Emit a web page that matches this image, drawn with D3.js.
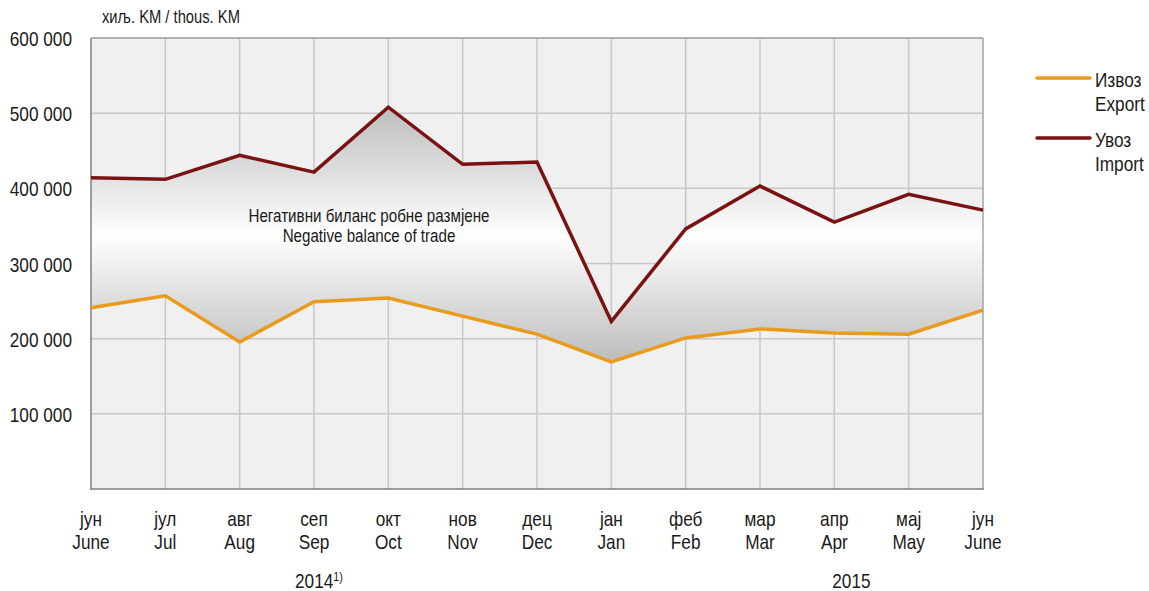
<!DOCTYPE html>
<html><head><meta charset="utf-8">
<script src="https://cdn.jsdelivr.net/npm/d3@7"></script>
<style>
html,body{margin:0;padding:0;background:#fff;}
svg text{font-family:"Liberation Sans",Arial,sans-serif;fill:#1a1a1a;}
</style></head>
<body>
<svg id="c" width="1149" height="591"></svg>
<script>
const monthsSr = ["јун","јул","авг","сеп","окт","нов","дец","јан","феб","мар","апр","мај","јун"];
const monthsEn = ["June","Jul","Aug","Sep","Oct","Nov","Dec","Jan","Feb","Mar","Apr","May","June"];
const exportVals = [241000,257000,195500,249000,254000,230000,206000,169000,201000,213000,207500,206000,238000];
const importVals = [414000,412000,444000,421500,508000,432000,435000,223000,346000,403000,355000,392000,371000];
const yTicks = [100000,200000,300000,400000,500000,600000];
const seriesNames = [["Извоз","Export"],["Увоз","Import"]];
const colors = ["#e89b1c","#7a1212"];

const svg = d3.select("#c");
const L=91, R=983, T=38, B=489;
const x = d3.scaleLinear().domain([0,12]).range([L,R]);
const y = d3.scaleLinear().domain([0,600000]).range([B,T]);
const fmt = v => d3.format(",")(v).replace(/,/g," ");
const FS = 21, SX = 0.82;

// narrow-looking text helper
function txt(parent, tx, ty, str, size, anchor){
  const gg = parent.append("g").attr("transform",`translate(${tx},${ty}) scale(${SX},1)`);
  const t = gg.append("text").attr("x",0).attr("y",0).attr("font-size",size).attr("text-anchor",anchor||"start");
  if(str!==null) t.text(str);
  return t;
}

svg.append("rect").attr("x",L).attr("y",T).attr("width",R-L).attr("height",B-T).attr("fill","#f0f0f0");

const g = svg.append("g");
g.selectAll(".hy").data(yTicks).join("line")
 .attr("x1",L).attr("x2",R).attr("y1",d=>y(d)).attr("y2",d=>y(d))
 .attr("stroke","#c8c8c8").attr("stroke-width",1.5);
g.selectAll(".vx").data(d3.range(1,12)).join("line")
 .attr("x1",d=>x(d)).attr("x2",d=>x(d)).attr("y1",T).attr("y2",B)
 .attr("stroke","#c8c8c8").attr("stroke-width",1.5);

const defs = svg.append("defs");
const grad = defs.append("linearGradient").attr("id","ag").attr("x1",0).attr("y1",0).attr("x2",0).attr("y2",1);
grad.append("stop").attr("offset","0%").attr("stop-color","#bdbdbd");
grad.append("stop").attr("offset","50%").attr("stop-color","#ffffff");
grad.append("stop").attr("offset","100%").attr("stop-color","#bdbdbd");

const idx = d3.range(monthsSr.length);
const area = d3.area().x(i=>x(i)).y0(i=>y(exportVals[i])).y1(i=>y(importVals[i]));
svg.append("path").datum(idx).attr("d",area).attr("fill","url(#ag)");

svg.append("line").attr("x1",L).attr("x2",R).attr("y1",T).attr("y2",T).attr("stroke","#a6a6a6").attr("stroke-width",1.5);
svg.append("line").attr("x1",R).attr("x2",R).attr("y1",T).attr("y2",B).attr("stroke","#a6a6a6").attr("stroke-width",1.5);
svg.append("line").attr("x1",L).attr("x2",L).attr("y1",T).attr("y2",B+1).attr("stroke","#7f7f7f").attr("stroke-width",1.5);
svg.append("line").attr("x1",L).attr("x2",R+1).attr("y1",B).attr("y2",B).attr("stroke","#7f7f7f").attr("stroke-width",1.5);

const line = vals => d3.line().x(i=>x(i)).y(i=>y(vals[i]));
svg.append("path").datum(idx).attr("d",line(exportVals)).attr("fill","none").attr("stroke",colors[0]).attr("stroke-width",3.5);
svg.append("path").datum(idx).attr("d",line(importVals)).attr("fill","none").attr("stroke",colors[1]).attr("stroke-width",3.5);

// y tick labels
yTicks.forEach(d => txt(svg, 72, y(d)+8, fmt(d), FS, "end"));

// unit
txt(svg, 102, 23, "хиљ. KM / thous. KM", 18);

// month labels
idx.forEach(i => {
  txt(svg, x(i), 526, monthsSr[i], FS, "middle");
  txt(svg, x(i), 549, monthsEn[i], FS, "middle");
});

// years
const y14 = txt(svg, x(3)-19, 588, null, FS);
y14.append("tspan").text("2014");
y14.append("tspan").attr("font-size",13).attr("dy",-7).text("1)");
txt(svg, x(10.23), 588, "2015", FS, "middle");

// annotation
txt(svg, x(3.74), 222, "Негативни биланс робне размјене", 18.5, "middle");
txt(svg, x(3.74), 242, "Negative balance of trade", 18.5, "middle");

// legend
[0,1].forEach(k=>{
  const ly = 78 + k*60;
  svg.append("line").attr("x1",1037).attr("x2",1090).attr("y1",ly).attr("y2",ly).attr("stroke",colors[k]).attr("stroke-width",3.5).attr("stroke-linecap","round");
  txt(svg, 1095, ly+9, seriesNames[k][0], FS);
  txt(svg, 1095, ly+33, seriesNames[k][1], FS);
});
</script>
</body></html>
